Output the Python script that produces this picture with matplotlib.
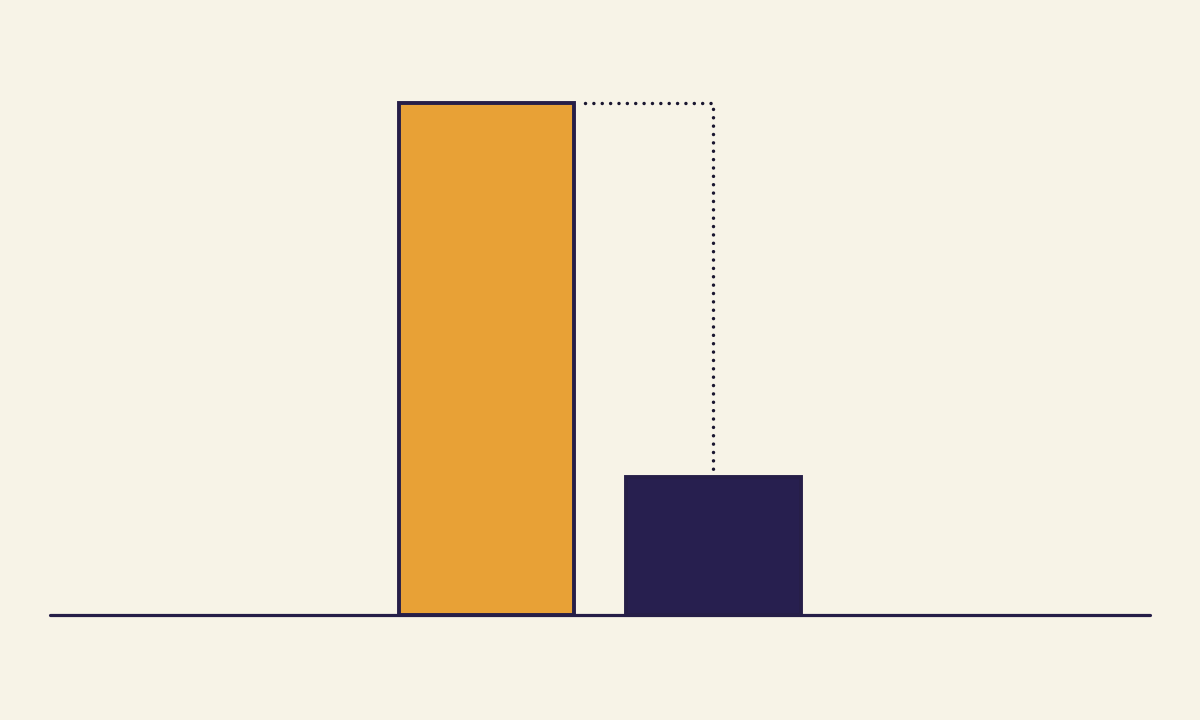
import matplotlib
matplotlib.use("Agg")
import matplotlib.pyplot as plt

categories = ["Before", "After"]
values = [100, 27]
bar_colors = ["#e8a136", "#271f4f"]

BG = "#f7f3e7"
INK = "#261e48"

fig = plt.figure(figsize=(12, 7.2), dpi=100, facecolor=BG)
ax = fig.add_axes([50/1200, 105/720, 1100/1200, 512/720])
ax.set_facecolor(BG)

xpos = list(range(len(categories)))
ax.bar(xpos, values, width=0.77, color=bar_colors, edgecolor=INK,
       linewidth=2.8, zorder=3, clip_on=False)

ax.set_xlim(-1.923, 2.923)
ax.set_ylim(0, 100)

# dotted connector from top of first bar over to the second bar
x_start = xpos[0] + 0.77/2 + 0.05
ax.plot([x_start, xpos[1], xpos[1]], [values[0], values[0], values[1] + 1.5],
        linestyle=(0, (0.01, 2.4)), dash_capstyle="round", color="#1a1630",
        linewidth=2.5, zorder=2, clip_on=False)

for s in ["top", "right", "left"]:
    ax.spines[s].set_visible(False)
ax.spines["bottom"].set_color(INK)
ax.spines["bottom"].set_linewidth(2.3)
ax.spines["bottom"].set_capstyle("round")
ax.spines["bottom"].set_zorder(4)
ax.set_xticks([])
ax.set_yticks([])

fig.savefig("out.png", dpi=100, facecolor=BG)
